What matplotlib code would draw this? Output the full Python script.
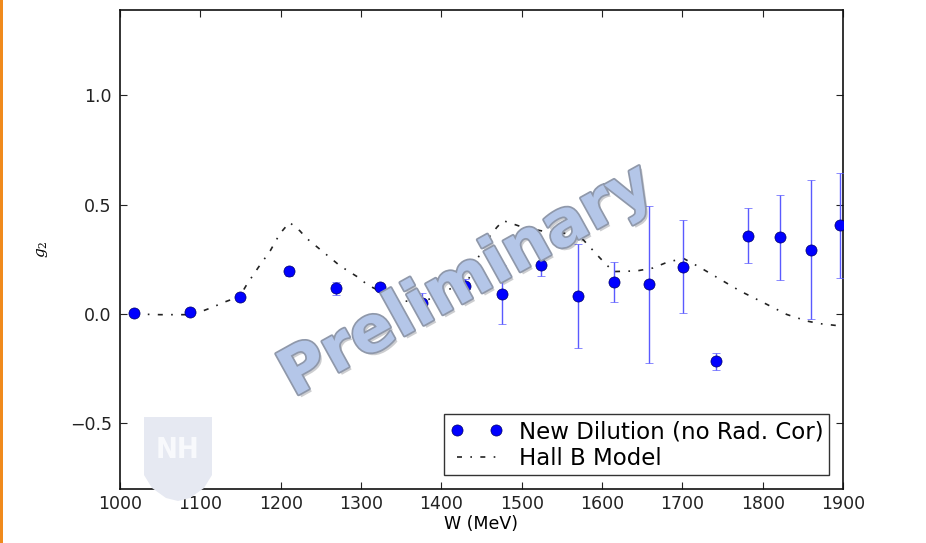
import matplotlib
matplotlib.use("Agg")
import matplotlib.pyplot as plt
import matplotlib.patheffects as pe
from matplotlib.patches import Rectangle, Polygon
from matplotlib.lines import Line2D

# g2 measurements vs invariant mass W
w_data = [1018, 1087, 1149, 1210, 1269, 1324, 1376, 1429, 1476, 1524,
          1570, 1615, 1659, 1701, 1742, 1782, 1821, 1860, 1896]
g2_data = [0.005, 0.01, 0.08, 0.195, 0.117, 0.125, 0.05, 0.127, 0.09, 0.223,
           0.084, 0.148, 0.136, 0.217, -0.217, 0.359, 0.35, 0.295, 0.405]
g2_err = [0.006, 0.006, 0.01, 0.022, 0.03, 0.012, 0.045, 0.035, 0.134, 0.05,
          0.238, 0.092, 0.36, 0.213, 0.037, 0.126, 0.195, 0.316, 0.24]

# Hall B model curve
w_model = [1018, 1050, 1087, 1100, 1116, 1128, 1149, 1158, 1172, 1187, 1199,
           1211, 1224, 1232, 1274, 1299, 1307, 1328, 1349, 1373, 1390, 1411,
           1432, 1448, 1456, 1469, 1477, 1502, 1531, 1564, 1577, 1597, 1614,
           1643, 1663, 1680, 1701, 1722, 1747, 1772, 1801, 1830, 1855, 1871,
           1898]
g2_model = [0.0, -0.003, -0.003, 0.01, 0.032, 0.052, 0.08, 0.136, 0.212, 0.289,
            0.367, 0.419, 0.38, 0.347, 0.22, 0.162, 0.136, 0.095, 0.062, 0.052,
            0.075, 0.115, 0.144, 0.275, 0.335, 0.396, 0.427, 0.396, 0.376,
            0.366, 0.338, 0.258, 0.194, 0.197, 0.21, 0.235, 0.255, 0.213,
            0.159, 0.105, 0.052, -0.002, -0.032, -0.044, -0.055]

x_ticks = [1000, 1100, 1200, 1300, 1400, 1500, 1600, 1700, 1800, 1900]
y_ticks = [-0.5, 0.0, 0.5, 1.0]

plt.rcParams["font.family"] = ["DejaVu Sans"]
plt.rcParams["mathtext.fontset"] = "dejavuserif"

fig = plt.figure(figsize=(9.26, 5.43), dpi=100)
fig.patch.set_facecolor("white")
ax = fig.add_axes([120 / 926, 54 / 543, 723 / 926, 479 / 543])
ax.patch.set_alpha(0)

model_line, = ax.plot(w_model, g2_model, color="#222222", lw=1.2,
                      linestyle=(0, (3, 5, 1, 5)), label="Hall B Model", zorder=2)

eb = ax.errorbar(w_data, g2_data, yerr=g2_err, fmt="o", color="#0000ff",
                 markersize=8, markeredgecolor="#000066", markeredgewidth=0.5,
                 ecolor="#5a5aff", elinewidth=1.0, capsize=3, capthick=1.0,
                 zorder=3)

ax.set_xlim(1000, 1900)
ax.set_ylim(-0.8, 1.39)
ax.set_xticks(x_ticks)
ax.set_yticks(y_ticks)
ax.set_yticklabels(["\u22120.5", "0.0", "0.5", "1.0"])
ax.tick_params(direction="in", length=5, width=0.8, top=True, right=True,
               labelsize=12.5, colors="#222222")
ax.tick_params(axis="x", pad=4)
ax.tick_params(axis="y", pad=6)
for s in ax.spines.values():
    s.set_linewidth(1.2)
    s.set_color("#111111")

ax.set_xlabel("W (MeV)", fontsize=12.5, labelpad=2)
ax.set_ylabel("$g_2$", fontsize=11)
ax.yaxis.set_label_coords(-0.097, 0.5)

marker_handle = Line2D([], [], linestyle="none", marker="o", color="#0000ff",
                       markersize=8, markeredgecolor="#000066",
                       markeredgewidth=0.5)
leg = ax.legend([marker_handle, model_line],
                ["New Dilution (no Rad. Cor)", "Hall B Model"],
                loc="lower right", numpoints=2, fontsize=16.5, frameon=True,
                fancybox=False, borderaxespad=0.6, handlelength=2.3,
                handletextpad=0.7, borderpad=0.25, labelspacing=0.15)
leg.get_frame().set_edgecolor("black")
leg.get_frame().set_linewidth(1.0)
leg.set_zorder(5)

# "Preliminary" stamp across the plot
fig.text(0.504, 0.482, "Preliminary", fontsize=46, fontweight="bold",
         color="#b4c6e8", rotation=29, ha="center", va="center", zorder=10,
         path_effects=[pe.SimplePatchShadow(offset=(2, -2), alpha=0.25),
                       pe.withStroke(linewidth=2.5, foreground="#8f98aa")])

# faint university shield in the lower left
shield = Polygon([(144 / 926, 1 - 417 / 543), (212 / 926, 1 - 417 / 543),
                  (212 / 926, 1 - 475 / 543), (204 / 926, 1 - 488 / 543),
                  (190 / 926, 1 - 498 / 543), (178 / 926, 1 - 501 / 543),
                  (166 / 926, 1 - 498 / 543), (152 / 926, 1 - 488 / 543),
                  (144 / 926, 1 - 475 / 543)],
                 closed=True, transform=fig.transFigure, facecolor="#e6e9f2",
                 edgecolor="none", zorder=0.5)
fig.patches.append(shield)
fig.text(178 / 926, 1 - 450 / 543, "NH", fontsize=21, fontweight="bold",
         color="#f8f9fc", ha="center", va="center", zorder=0.6,
         fontstretch="condensed")

# orange edge stripe
fig.patches.append(Rectangle((0, 0), 3 / 926, 1, transform=fig.transFigure,
                             facecolor="#f08a1c", edgecolor="none", zorder=0))

fig.savefig("out.png", dpi=100)
